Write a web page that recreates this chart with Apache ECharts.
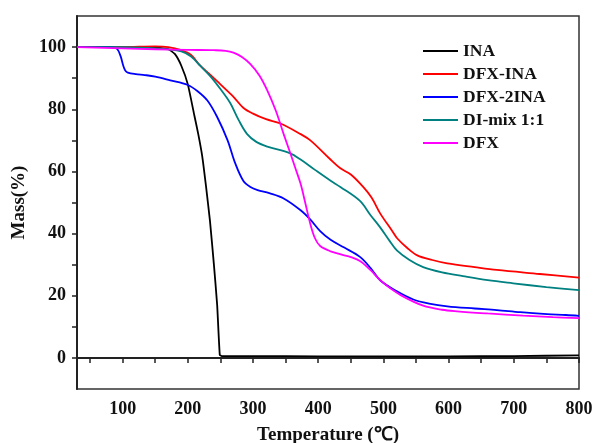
<!DOCTYPE html>
<html>
<head>
<meta charset="utf-8">
<script src="https://cdn.jsdelivr.net/npm/echarts@6/dist/echarts.min.js"></script>
<style>html,body{margin:0;padding:0;background:#fff}#c{width:594px;height:443px}</style>
</head>
<body>
<div id="c"></div>
<script>
// ---- data ----
const seriesNames = ["INA", "DFX-INA", "DFX-2INA", "DI-mix 1:1", "DFX"];
const xTickLabels = [100, 200, 300, 400, 500, 600, 700, 800];
const yTickLabels = [0, 20, 40, 60, 80, 100];

const inaT = [30, 100, 150, 170, 180, 190, 200, 210, 216, 222, 228, 234, 240, 245, 249, 252, 300, 400, 500, 600, 700, 800];
const inaM = [100, 100, 99.8, 99.3, 97.8, 94, 88, 78, 72, 65, 55, 44, 30, 17, 1, 0.6, 0.6, 0.5, 0.5, 0.5, 0.6, 0.8];

const dfxInaT = [30, 100, 150, 170, 190, 205, 219, 235, 250, 270, 285, 300, 320, 342, 373, 388, 418, 434, 450, 469, 482, 495, 513, 521, 537, 552, 575, 598, 640, 674, 740, 800];
const dfxInaM = [100, 100, 100.2, 100, 99, 97.5, 94, 91, 88, 84, 80.5, 78.6, 76.8, 75.4, 72, 70, 64, 61, 59, 55, 51.5, 46.5, 41, 38.5, 35.3, 33, 31.5, 30.4, 29.2, 28.3, 27, 25.8];

const dfx2InaT = [30, 85, 92, 97, 101, 104, 108, 120, 134, 150, 173, 200, 215, 230, 245, 261, 272, 285, 296, 307, 325, 347, 373, 388, 403, 419, 440, 464, 480, 495, 520, 546, 570, 598, 640, 674, 710, 751, 780, 800];
const dfx2InaM = [100, 100, 99.3, 97, 94, 92.5, 91.8, 91.3, 91, 90.5, 89.3, 87.8, 85.8, 82.8, 77.5, 70, 63, 57, 55, 54, 53, 51.3, 47.5, 44.5, 40.8, 38, 35.5, 32.5, 29, 25, 21.5, 18.8, 17.5, 16.6, 15.9, 15.4, 14.7, 14.1, 13.8, 13.5];

const diMixT = [30, 100, 150, 170, 190, 205, 219, 235, 250, 265, 278, 291, 305, 322, 357, 373, 395, 419, 434, 464, 480, 495, 510, 521, 540, 561, 590, 622, 660, 699, 750, 800];
const diMixM = [100, 100, 99.6, 99.3, 98.6, 97, 94, 90.5, 86.5, 82, 76.5, 72, 69.5, 68, 65.8, 63.8, 60.5, 57, 55, 50.5, 46, 42, 37.5, 34.5, 31.5, 29.2, 27.5, 26.3, 25, 24, 22.8, 21.8];

const dfxT = [30, 100, 150, 200, 240, 258, 270, 283, 296, 310, 322, 335, 347, 357, 365, 373, 380, 388, 395, 403, 419, 440, 449, 464, 480, 495, 510, 530, 561, 590, 613, 660, 714, 760, 800];
const dfxM = [100, 99.6, 99.3, 99.1, 99, 98.8, 98.2, 96.8, 94.5, 90.8, 86, 79.5, 72, 66, 61, 56, 50, 43, 38.5, 36, 34.3, 33, 32.5, 31.2, 28.3, 25, 22.5, 19.8, 16.8, 15.5, 15, 14.3, 13.6, 13.1, 12.8];

const colors = ["#000000", "#ff0000", "#0000ff", "#008080", "#ff00ff"];
const allT = [inaT, dfxInaT, dfx2InaT, diMixT, dfxT];
const allM = [inaM, dfxInaM, dfx2InaM, diMixM, dfxM];
const smoothness = [0.15, 0.35, 0.35, 0.35, 0.35];

const font = "'Liberation Serif', 'Times New Roman', serif";

const chart = echarts.init(document.getElementById('c'), null, {renderer: 'canvas'});
chart.setOption({
  animation: false,
  backgroundColor: '#ffffff',
  grid: {left: 77, right: 15, top: 16, bottom: 54, show: true, borderColor: '#333', borderWidth: 1.5,
    containLabel: false, outerBoundsMode: 'none'},
  legend: {
    orient: 'vertical', left: 418, top: 37, icon: 'rect', itemWidth: 35, itemHeight: 2,
    itemGap: 5, data: seriesNames,
    textStyle: {fontFamily: font, fontWeight: 'bold', fontSize: 17.5, lineHeight: 17, color: '#111'}
  },
  xAxis: {
    type: 'value', min: 30, max: 800,
    name: 'Temperature (\u2103)', nameLocation: 'middle', nameGap: 37,
    nameTextStyle: {fontFamily: font, fontWeight: 'bold', fontSize: 19, color: '#111'},
    axisLine: {show: true, lineStyle: {color: '#222', width: 2}},
    axisTick: {show: true, length: 5, lineStyle: {color: '#222', width: 1.5},
      customValues: [50, 100, 150, 200, 250, 300, 350, 400, 450, 500, 550, 600, 650, 700, 750, 800]},
    axisLabel: {customValues: xTickLabels, margin: 11, fontFamily: font, fontWeight: 'bold', fontSize: 18, color: '#111'},
    splitLine: {show: false}
  },
  yAxis: {
    type: 'value', min: -10, max: 110,
    name: 'Mass(%)', nameLocation: 'middle', nameGap: 40,
    nameTextStyle: {fontFamily: font, fontWeight: 'bold', fontSize: 19, color: '#111'},
    axisLine: {show: true, lineStyle: {color: '#222', width: 2}},
    axisTick: {show: true, length: 5, lineStyle: {color: '#222', width: 1.5},
      customValues: [0, 10, 20, 30, 40, 50, 60, 70, 80, 90, 100]},
    axisLabel: {customValues: yTickLabels, margin: 11, fontFamily: font, fontWeight: 'bold', fontSize: 18, color: '#111'},
    splitLine: {show: false}
  },
  series: seriesNames.map((n, i) => ({
    name: n, type: 'line', showSymbol: false, smooth: smoothness[i],
    color: colors[i],
    lineStyle: {width: 1.8, color: colors[i]},
    data: allT[i].map((t, j) => [t, allM[i][j]])
  }))
});
</script>
</body>
</html>
